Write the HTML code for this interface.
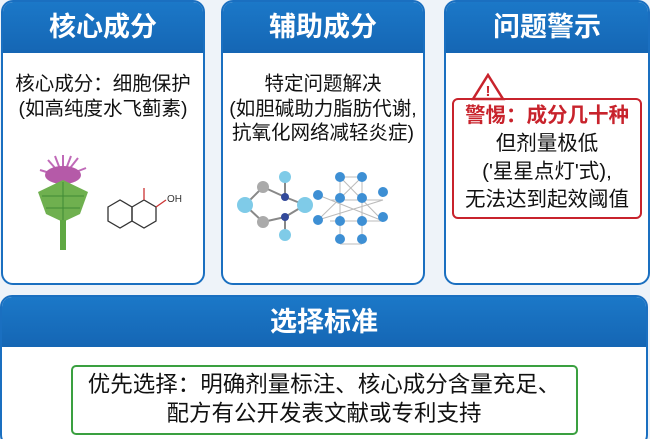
<!DOCTYPE html><html><head><meta charset="utf-8"><style>
html,body{margin:0;width:650px;height:439px;overflow:hidden}
body{background:#eef3f9;font-family:"Liberation Sans","Noto Sans CJK SC",sans-serif;position:relative}
.p{position:absolute;background:#fff;border:2px solid #1a6fc0;border-radius:12px;overflow:hidden;box-sizing:border-box}
.h{background:linear-gradient(#1b78c8,#1566b4);color:#fff;font-weight:bold;text-align:center;font-size:27px;height:51px;line-height:51px}
.t{position:absolute;left:-10px;right:-10px;text-align:center;font-size:19.5px;line-height:24.5px;color:#111;white-space:nowrap}
</style></head><body>
<div class="p" style="left:1px;top:0px;width:204px;height:285px"><div class="h">核心成分</div>
<div class="t" style="top:70px">核心成分：细胞保护<br>(如高纯度水飞蓟素)</div>
<svg style="position:absolute;left:25px;top:150px" width="170" height="100">
<g stroke="#c06ab8" stroke-width="2"><line x1="35" y1="25" x2="20" y2="8"/><line x1="35" y1="25" x2="50" y2="6"/><line x1="35" y1="25" x2="35" y2="3"/><line x1="35" y1="25" x2="12" y2="18"/><line x1="35" y1="25" x2="58" y2="16"/><line x1="35" y1="25" x2="27" y2="4"/><line x1="35" y1="25" x2="43" y2="4"/></g>
<ellipse cx="35" cy="23" rx="18" ry="9" fill="#b55aa8"/>
<path d="M10 40 L35 28 L60 40 L52 62 L35 70 L18 62 Z" fill="#6fb04f"/>
<g stroke="#3f8a34" stroke-width="1"><line x1="35" y1="30" x2="35" y2="68"/><line x1="14" y1="44" x2="56" y2="44"/><line x1="18" y1="56" x2="52" y2="56"/></g>
<rect x="32" y="68" width="6" height="30" fill="#5fa843"/>
<g fill="none" stroke="#333" stroke-width="1.3"><polygon points="80,55 92,48 104,55 104,69 92,76 80,69"/><polygon points="104,55 116,48 128,55 128,69 116,76 104,69"/><line x1="116" y1="48" x2="116" y2="36" stroke="#c33"/><line x1="128" y1="55" x2="138" y2="48" stroke="#c33"/></g>
<text x="139" y="50" font-size="10" fill="#333" font-family="Liberation Sans">OH</text></svg>
</div>
<div class="p" style="left:221px;top:0px;width:204px;height:285px"><div class="h">辅助成分</div>
<div class="t" style="top:70px">特定问题解决<br>(如胆碱助力脂肪代谢,<br>抗氧化网络减轻炎症)</div>
<svg style="position:absolute;left:10px;top:165px" width="190" height="80">
<g stroke="#888" stroke-width="2"><line x1="12" y1="38" x2="30" y2="20"/><line x1="30" y1="20" x2="52" y2="30"/><line x1="52" y1="30" x2="72" y2="38"/><line x1="72" y1="38" x2="52" y2="50"/><line x1="52" y1="50" x2="30" y2="55"/><line x1="30" y1="55" x2="12" y2="38"/><line x1="52" y1="30" x2="52" y2="10"/><line x1="52" y1="50" x2="52" y2="68"/></g>
<circle cx="12" cy="38" r="8" fill="#7fcbe8"/><circle cx="72" cy="38" r="8" fill="#7fcbe8"/><circle cx="52" cy="10" r="6" fill="#7fcbe8"/><circle cx="52" cy="68" r="6" fill="#7fcbe8"/><circle cx="30" cy="20" r="6" fill="#aaa"/><circle cx="30" cy="55" r="6" fill="#aaa"/><circle cx="52" cy="30" r="4" fill="#334a9a"/><circle cx="52" cy="50" r="4" fill="#334a9a"/>
<g stroke="#bbb" stroke-width="1"><line x1="107" y1="10" x2="129" y2="10"/><line x1="97" y1="33" x2="150" y2="33"/><line x1="97" y1="54" x2="150" y2="54"/><line x1="107" y1="77" x2="129" y2="77"/><line x1="107" y1="10" x2="107" y2="77"/><line x1="129" y1="10" x2="129" y2="77"/><line x1="85" y1="28" x2="150" y2="54"/><line x1="85" y1="53" x2="150" y2="33"/><line x1="107" y1="10" x2="150" y2="54"/><line x1="129" y1="10" x2="85" y2="53"/></g>
<g fill="#3d8fd4"><circle cx="107" cy="10" r="5"/><circle cx="129" cy="10" r="5"/><circle cx="85" cy="28" r="5"/><circle cx="150" cy="25" r="5"/><circle cx="107" cy="31" r="5"/><circle cx="129" cy="31" r="5"/><circle cx="85" cy="53" r="5"/><circle cx="150" cy="50" r="5"/><circle cx="107" cy="54" r="5"/><circle cx="129" cy="54" r="5"/><circle cx="107" cy="72" r="5"/><circle cx="129" cy="72" r="5"/></g></svg>
</div>
<div class="p" style="left:444px;top:0px;width:206px;height:285px"><div class="h">问题警示</div>
<svg style="position:absolute;left:25px;top:71px" width="35" height="28"><polygon points="17,2 32,26 2,26" fill="#fff" stroke="#c8232c" stroke-width="2.5"/><text x="17" y="23" font-size="15" font-weight="bold" fill="#c8232c" text-anchor="middle">!</text></svg>
<div style="position:absolute;left:6px;top:96px;width:190px;height:121px;border:2px solid #c8232c;border-radius:6px;box-sizing:border-box"></div>
<div class="t" style="top:100px;font-size:20.5px;line-height:28px">
<span style="color:#c8232c;font-weight:bold">警惕：成分几十种</span><br>但剂量极低<br>('星星点灯'式),<br>无法达到起效阈值</div>
</div>
<div class="p" style="left:0;top:295px;width:648px;height:152px"><div class="h" style="height:50px;line-height:50px">选择标准</div>
<div style="position:absolute;left:69px;top:68px;width:507px;height:70px;border:2px solid #3aa040;border-radius:5px;box-sizing:border-box"></div>
<div class="t" style="top:73px;font-size:22.5px;line-height:29px">优先选择：明确剂量标注、核心成分含量充足、<br>配方有公开发表文献或专利支持</div>
</div>
</body></html>
